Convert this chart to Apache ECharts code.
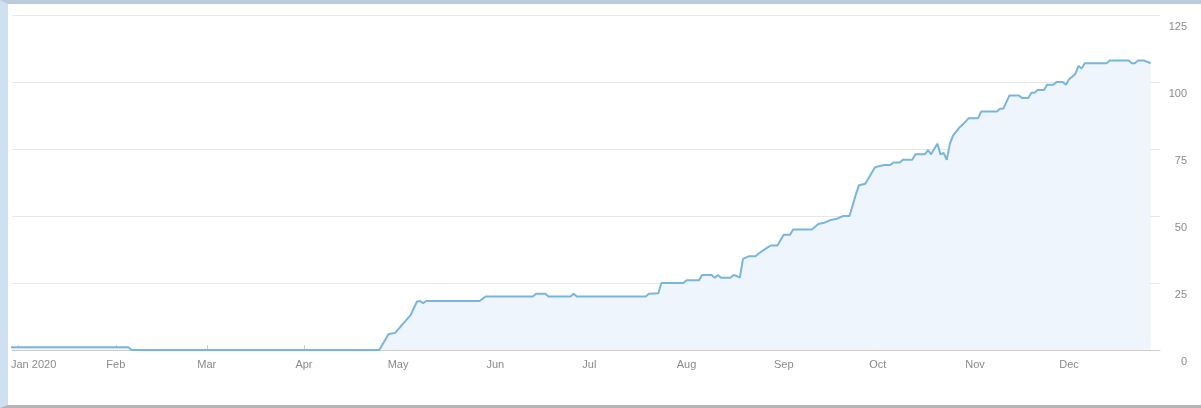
<!DOCTYPE html>
<html><head><meta charset="utf-8">
<script src="https://cdn.jsdelivr.net/npm/echarts@6/dist/echarts.min.js"></script>
<style>
html,body{margin:0;padding:0;background:#fff;}
#wrap{width:1193px;height:401px;border-left:8px solid #cfe0f2;border-top:4px solid #bccbdc;border-bottom:3px solid #b4b4b4;}
#c{width:1193px;height:401px;}
</style></head><body>
<div id="wrap"><div id="c"></div></div>
<script>
// day offsets from 2020-01-01 and values
const days = [-3,35,36,115,118,120,122,125,127,128,129,130,147,149,164,165,168,169,176,177,178,200,201,204,205,212,213,217,218,221,222,223,224,227,228,229,230,231,233,235,236,239,240,242,243,244,246,247,253,255,257,259,261,263,265,267,268,270,271,273,274,276,278,279,281,282,285,286,289,290,291,293,294,295,296,297,298,300,301,303,306,307,312,313,314,316,319,320,322,323,324,325,327,328,330,331,333,334,335,337,338,339,340,347,348,354,355,356,357,359,361];
const values = [1,1,0,0,6,6.3,9,13,18,18.3,17.5,18.3,18.3,20,20,21,21,20,20,21,20,20,21,21.2,25,25,26,26,28,28,27,28,27,27,28,27.6,27,34,35,35,36,38.4,39,39,41,43,43,45,45,47,47.5,48.5,49,50,50,58,61.5,62,64,68,68.5,69,69,70,70,71,71,73,73,74.6,73,77,73,73.5,71,77,80,83,84,86.5,86.5,89,89,90,90,95,95,94,94,96,96,97,97,99,99,100,100,99,101,103,106,105,107,107,108,108,107,107,108,108,107];
const yTicks = [0,25,50,75,100,125];
const MON = ['Jan','Feb','Mar','Apr','May','Jun','Jul','Aug','Sep','Oct','Nov','Dec'];
const data = days.map((d,i)=>[Date.UTC(2020,0,1+d), values[i]]);
const chart = echarts.init(document.getElementById('c'));
chart.setOption({
  animation:false,
  grid:{left:2,right:41,top:11,bottom:55},
  xAxis:{type:'time',min:Date.UTC(2019,11,30),max:Date.UTC(2020,11,30),
    splitNumber:12,minInterval:28*86400000,
    axisLine:{lineStyle:{color:'#cccccc'}},
    axisTick:{show:true,inside:true,length:5,lineStyle:{color:'#cccccc'}},
    splitLine:{show:false},
    axisLabel:{color:'#8a8a8a',fontSize:11,fontFamily:'Arial, Liberation Sans',margin:9,
      formatter:function(v){const d=new Date(v);const m=d.getUTCMonth();
        return m===0?'{f|Jan '+d.getUTCFullYear()+'}':MON[m];},
      rich:{f:{color:'#8a8a8a',fontSize:11,fontFamily:'Arial, Liberation Sans',padding:[0,0,0,30]}}}},
  yAxis:{type:'value',position:'right',min:0,max:125,interval:25,
    axisLine:{show:false},axisTick:{show:false},
    splitLine:{lineStyle:{color:'#e6e6e6'}},
    axisLabel:{color:'#8a8a8a',fontSize:11,fontFamily:'Arial, Liberation Sans',align:'right',margin:27,verticalAlign:'top',padding:[6,0,0,0],
      formatter:v=>yTicks.includes(v)?String(v):''}},
  series:[{type:'line',data:data,symbol:'none',
    lineStyle:{color:'#7ab6dc',width:2},
    areaStyle:{color:'#eef5fc',opacity:1}}]
});
</script></body></html>
